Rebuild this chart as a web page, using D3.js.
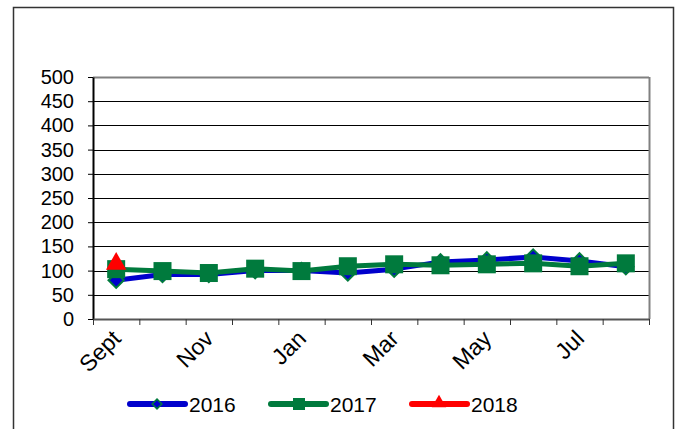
<!DOCTYPE html>
<html>
<head>
<meta charset="utf-8">
<script src="https://cdn.jsdelivr.net/npm/d3@7"></script>
<style>
  body { margin: 0; background: #fff; }
  text { font-family: "Liberation Sans", Arial, sans-serif; fill: #000; }
</style>
</head>
<body>
<svg id="chart"></svg>
<script>
// data
const months = ["Sept", "Oct", "Nov", "Dec", "Jan", "Feb", "Mar", "Apr", "May", "Jun", "Jul", "Aug"];
const monthLabels = ["Sept", "", "Nov", "", "Jan", "", "Mar", "", "May", "", "Jul", ""];
const yTicks = [0, 50, 100, 150, 200, 250, 300, 350, 400, 450, 500];
const values2016 = [80, 92, 92, 100, 100, 95, 103, 118, 122, 128, 120, 108];
const values2017 = [103, 99, 95, 104, 99, 109, 113, 111, 113, 115, 109, 115];
const values2018 = [114];

const W = 680, H = 429;
const margin = { left: 93, right: 31, top: 77, bottom: 110 };

const svg = d3.select('#chart')
    .attr('width', W)
    .attr('height', H);

// outer frame
svg.append('rect')
    .attr('x', 13.5).attr('y', 7.5)
    .attr('width', 660).attr('height', 430)
    .attr('fill', 'none')
    .attr('stroke', '#333')
    .attr('stroke-width', 1.5);

const x = d3.scaleBand()
    .domain(months)
    .range([margin.left, W - margin.right]);

const y = d3.scaleLinear()
    .domain([0, 500])
    .range([H - margin.bottom, margin.top]);

// gridlines
svg.append('g')
    .selectAll('line')
    .data(yTicks.filter(d => d > 0))
    .join('line')
    .attr('x1', margin.left).attr('x2', W - margin.right)
    .attr('y1', d => Math.round(y(d)) + 0.5)
    .attr('y2', d => Math.round(y(d)) + 0.5)
    .attr('stroke', d => d === 500 ? '#808080' : '#000')
    .attr('stroke-width', d => d === 500 ? 2 : 1);

// right border of plot
svg.append('line')
    .attr('x1', W - margin.right + 0.5).attr('x2', W - margin.right + 0.5)
    .attr('y1', y(500)).attr('y2', y(0))
    .attr('stroke', '#808080').attr('stroke-width', 2);

// y axis
const yAxisG = svg.append('g')
    .attr('transform', `translate(${margin.left},0)`)
    .call(d3.axisLeft(y).tickValues(yTicks).tickSize(5).tickPadding(14).tickSizeOuter(0));
yAxisG.select('.domain').attr('stroke', '#000').attr('stroke-width', 2);
yAxisG.selectAll('.tick line').attr('stroke', '#000');
yAxisG.selectAll('text')
    .style('font-family', '"Liberation Sans", Arial, sans-serif')
    .style('font-size', '20px');

// x axis: ticks on the category boundaries
const xEdges = d3.scaleLinear().domain([0, months.length]).range(x.range());
const xAxisG = svg.append('g')
    .attr('transform', `translate(0,${y(0)})`)
    .call(d3.axisBottom(xEdges).tickValues(d3.range(months.length + 1)).tickFormat('').tickSize(6).tickSizeOuter(0));
xAxisG.select('.domain').attr('stroke', '#555').attr('stroke-width', 2);
xAxisG.selectAll('.tick line').attr('stroke', '#333');

// x labels, rotated
svg.append('g')
    .selectAll('text')
    .data(months.map((m, i) => ({ m, label: monthLabels[i] })).filter(d => d.label))
    .join('text')
    .attr('transform', d => `translate(${x(d.m) + x.bandwidth() / 2 + 6},${y(0) + 21}) rotate(-45)`)
    .attr('text-anchor', 'end')
    .style('font-size', '23px')
    .text(d => d.label);

const line = d3.line()
    .x((d, i) => x(months[i]) + x.bandwidth() / 2)
    .y(d => y(d));

// 2016
svg.append('path')
    .datum(values2016)
    .attr('d', line)
    .attr('fill', 'none')
    .attr('stroke', '#0000cc')
    .attr('stroke-width', 5)
    .attr('stroke-linejoin', 'round');

const diamond = d3.symbol().type(d3.symbolDiamond2).size(150);
svg.append('g')
    .selectAll('path')
    .data(values2016)
    .join('path')
    .attr('d', diamond)
    .attr('transform', (d, i) => `translate(${x(months[i]) + x.bandwidth() / 2},${y(d)})`)
    .attr('fill', '#0000cc')
    .attr('stroke', '#007a3d')
    .attr('stroke-width', 2);

// 2017
svg.append('path')
    .datum(values2017)
    .attr('d', line)
    .attr('fill', 'none')
    .attr('stroke', '#007a3d')
    .attr('stroke-width', 5)
    .attr('stroke-linejoin', 'round');

svg.append('g')
    .selectAll('rect')
    .data(values2017)
    .join('rect')
    .attr('x', (d, i) => x(months[i]) + x.bandwidth() / 2 - 9)
    .attr('y', d => y(d) - 9)
    .attr('width', 18).attr('height', 18)
    .attr('fill', '#007a3d');

// 2018
const tri = d3.symbol().type(d3.symbolTriangle).size(180);
svg.append('g')
    .selectAll('path')
    .data(values2018)
    .join('path')
    .attr('d', tri)
    .attr('transform', (d, i) => `translate(${x(months[i]) + x.bandwidth() / 2},${y(d)})`)
    .attr('fill', '#ff0000');

// legend
const legend = [
  { name: '2016', color: '#0000cc', x: 130 },
  { name: '2017', color: '#007a3d', x: 271 },
  { name: '2018', color: '#ff0000', x: 412 }
];
const lg = svg.append('g').attr('transform', 'translate(0,404)');
lg.selectAll('line')
    .data(legend)
    .join('line')
    .attr('x1', d => d.x).attr('x2', d => d.x + 55)
    .attr('y1', 0).attr('y2', 0)
    .attr('stroke', d => d.color)
    .attr('stroke-width', 6)
    .attr('stroke-linecap', 'round');
lg.append('path')
    .attr('d', d3.symbol().type(d3.symbolDiamond2).size(60))
    .attr('transform', `translate(${legend[0].x + 27},0)`)
    .attr('fill', '#0000cc')
    .attr('stroke', '#007a3d')
    .attr('stroke-width', 1.5);
lg.append('rect')
    .attr('x', legend[1].x + 22).attr('y', -6)
    .attr('width', 12).attr('height', 12)
    .attr('fill', '#007a3d');
lg.append('path')
    .attr('d', d3.symbol().type(d3.symbolTriangle).size(90))
    .attr('transform', `translate(${legend[2].x + 27},-1)`)
    .attr('fill', '#ff0000');
lg.selectAll('text')
    .data(legend)
    .join('text')
    .attr('x', d => d.x + 59)
    .attr('y', 8)
    .style('font-size', '21px')
    .text(d => d.name);
</script>
</body>
</html>
